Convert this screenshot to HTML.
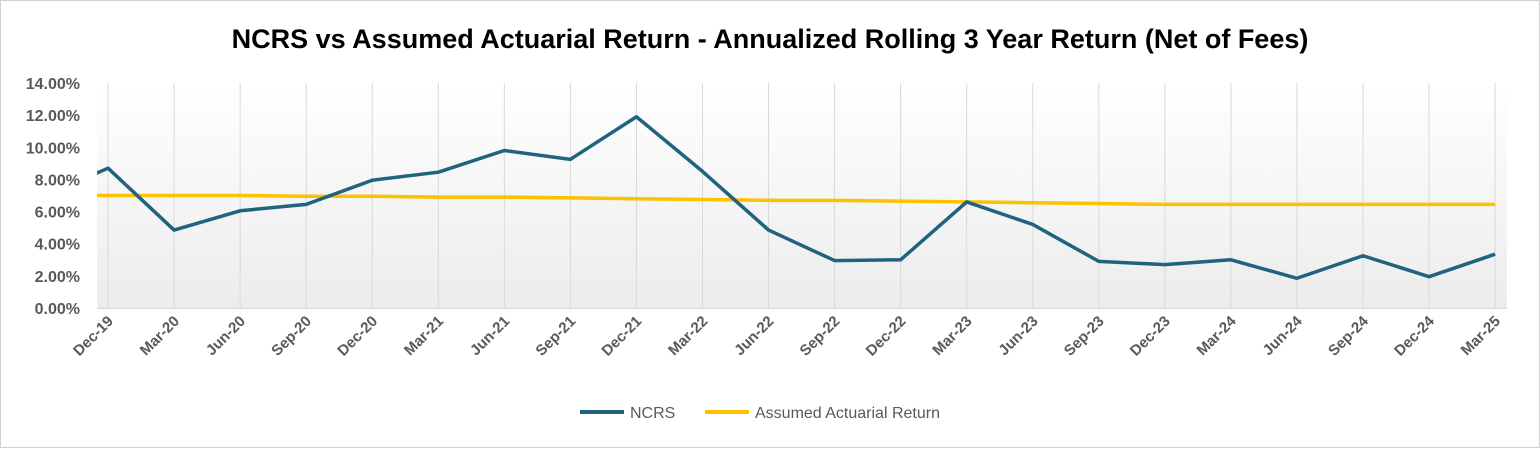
<!DOCTYPE html>
<html><head><meta charset="utf-8"><style>
body{margin:0;background:#fff;}
svg text{font-family:"Liberation Sans",sans-serif;}
</style></head><body>
<svg width="1540" height="448" viewBox="0 0 1540 448">
<defs><linearGradient id="bg" x1="0" y1="0" x2="0" y2="1"><stop offset="0" stop-color="#ffffff"/><stop offset="1" stop-color="#ececec"/></linearGradient>
<clipPath id="clip"><rect x="97" y="70" width="1410" height="240"/></clipPath></defs>
<rect x="0.5" y="0.5" width="1539" height="447" fill="#fff" stroke="#d0d0d0"/>
<text x="770" y="48" text-anchor="middle" font-size="27" font-weight="bold" fill="#000">NCRS vs Assumed Actuarial Return - Annualized Rolling 3 Year Return (Net of Fees)</text>
<rect x="97" y="83" width="1410" height="226" fill="url(#bg)"/>
<g id="grid"></g><g id="yaxis"></g><g id="xaxis"></g><g id="series" clip-path="url(#clip)"></g>
<g>
<line x1="580" y1="412" x2="624" y2="412" stroke="#1f637f" stroke-width="4"/>
<text x="630" y="418" font-size="16" fill="#595959">NCRS</text>
<line x1="705" y1="412" x2="749" y2="412" stroke="#ffc000" stroke-width="4"/>
<text x="755" y="418" font-size="16" fill="#595959">Assumed Actuarial Return</text>
</g>
</svg>
<script>
const categories=["Sep-19","Dec-19","Mar-20","Jun-20","Sep-20","Dec-20","Mar-21","Jun-21","Sep-21","Dec-21","Mar-22","Jun-22","Sep-22","Dec-22","Mar-23","Jun-23","Sep-23","Dec-23","Mar-24","Jun-24","Sep-24","Dec-24","Mar-25"];
const ncrs=[6.9,8.7,4.85,6.05,6.45,7.95,8.45,9.8,9.25,11.9,8.5,4.85,2.95,3.0,6.6,5.2,2.9,2.7,3.0,1.85,3.25,1.95,3.35];
const assumed=[7.05,7.0,7.0,7.0,6.95,6.95,6.9,6.9,6.85,6.8,6.75,6.7,6.7,6.65,6.6,6.55,6.5,6.45,6.45,6.45,6.45,6.45,6.45];
const yTicks=[0,2,4,6,8,10,12,14];
const NS="http://www.w3.org/2000/svg";
const x0=42,dx=66.05;
function xs(i){return x0+i*dx;}
function ys(v){return 308-v*(225/14);}
function mk(t,a,p){const e=document.createElementNS(NS,t);for(const k in a)e.setAttribute(k,a[k]);document.getElementById(p).appendChild(e);return e;}
yTicks.forEach(v=>{const t=mk("text",{x:80,y:ys(v)+6,"text-anchor":"end","font-size":"16","font-weight":"bold",fill:"#595959"},"yaxis");t.textContent=v.toFixed(2)+"%";

});
categories.forEach((c,i)=>{if(i===0)return;const x=xs(i);
const g=mk("line",{x1:x,y1:83,x2:x,y2:308,stroke:"#d9d9d9","stroke-width":"1"},"grid");


const t=mk("text",{x:x+6,y:322,"text-anchor":"end","font-size":"15","font-weight":"bold",fill:"#595959",transform:`rotate(-45 ${x+6} 322)`},"xaxis");t.textContent=c;

});
const ax=mk("line",{x1:97,y1:308.5,x2:1507,y2:308.5,stroke:"#d9d9d9"},"grid");


function line(d,col,name){const p=mk("polyline",{points:d.map((v,i)=>xs(i)+","+ys(v)).join(" "),fill:"none",stroke:col,"stroke-width":"3.5","stroke-linejoin":"round"},"series");

}
line(assumed,"#ffc000","assumed-return-line");
line(ncrs,"#1f637f","ncrs-line");
</script>
</body></html>
